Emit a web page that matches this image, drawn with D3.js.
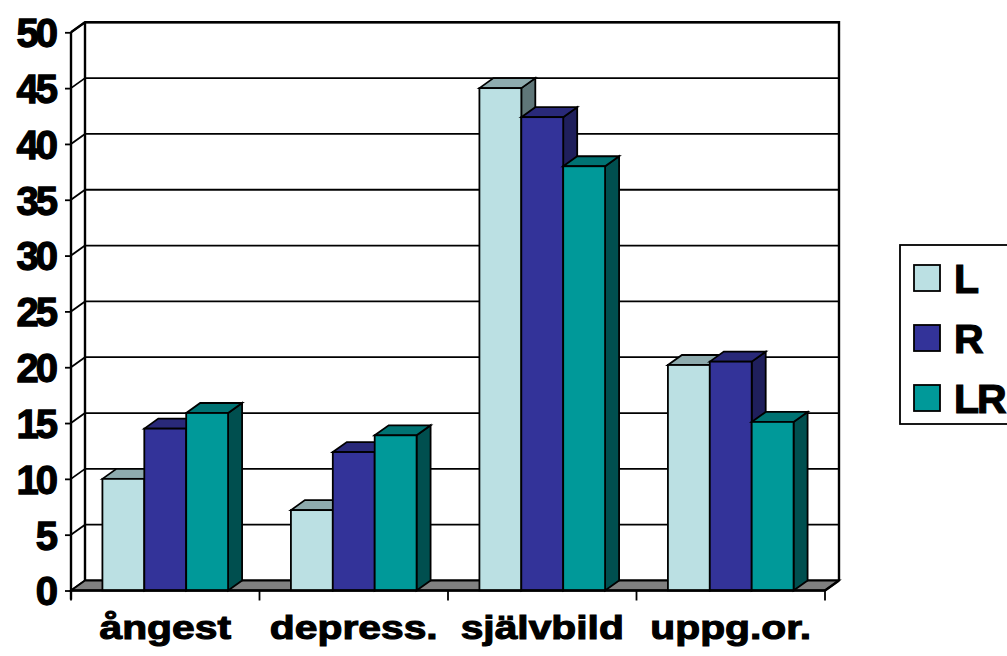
<!DOCTYPE html>
<html>
<head>
<meta charset="utf-8">
<script src="https://cdn.jsdelivr.net/npm/d3@7"></script>
<style>
  html, body { margin: 0; padding: 0; background: #fff; }
  svg { display: block; font-family: "Liberation Sans", Arial, sans-serif; font-weight: bold; }
</style>
</head>
<body>
<svg id="chart" width="1007" height="656"></svg>
<script>
// Categories and series
const categories = ["ångest", "depress.", "självbild", "uppg.or."];
const seriesNames = ["L", "R", "LR"];
const valuesL  = [10, 7.2, 45, 20.2];
const valuesR  = [14.5, 12.4, 42.4, 20.5];
const valuesLR = [15.9, 13.9, 38, 15.1];
const yTicks = [0, 5, 10, 15, 20, 25, 30, 35, 40, 45, 50];

const seriesValues = [valuesL, valuesR, valuesLR];

// Face colours per series: front, top, side
const palette = [
  { front: "#BBE0E3", top: "#8EABAE", side: "#5F7678" },
  { front: "#333399", top: "#292979", side: "#1F1F5C" },
  { front: "#009999", top: "#007373", side: "#004F4F" }
];

const svg = d3.select("#chart");

// Front plane of the plot and 3D depth offset
const plotLeft = 71, plotRight = 825, plotBottom = 590.5, plotTop = 32.3;
const dx = 14, dy = -10;

const x = d3.scaleBand().domain(categories).range([plotLeft, plotRight]).paddingInner(0).paddingOuter(0);
const y = d3.scaleLinear().domain([0, 50]).range([plotBottom, plotTop]);

// Bars sit inside each category with a 150% gap (0.75 of a bar each side)
const xs = d3.scaleBand().domain(seriesNames).range([0, x.bandwidth()]).paddingInner(0).paddingOuter(0.75);

const pts = p => p.map(q => q.join(",")).join(" ");

// Back wall
svg.append("rect")
  .attr("x", plotLeft + dx).attr("y", plotTop + dy)
  .attr("width", plotRight - plotLeft).attr("height", plotBottom - plotTop)
  .attr("fill", "#fff");

// Gridlines on the back wall and the left wall
const grid = svg.append("g");
yTicks.forEach(t => {
  const yy = y(t);
  grid.append("line")
    .attr("x1", plotLeft + dx).attr("x2", plotRight + dx)
    .attr("y1", yy + dy).attr("y2", yy + dy)
    .attr("stroke", "#000").attr("stroke-width", 1.8);
  grid.append("line")
    .attr("x1", plotLeft).attr("x2", plotLeft + dx)
    .attr("y1", yy).attr("y2", yy + dy)
    .attr("stroke", "#000").attr("stroke-width", 1.8);
});

// Walls outline
const frame = svg.append("g").attr("fill", "none").attr("stroke", "#000").attr("stroke-width", 2.4);
frame.append("polyline").attr("points", pts([
  [plotLeft, y(50)], [plotLeft + dx, y(50) + dy], [plotRight + dx, y(50) + dy], [plotRight + dx, y(0) + dy]
]));
frame.append("line")
  .attr("x1", plotLeft + dx).attr("x2", plotLeft + dx)
  .attr("y1", y(50) + dy).attr("y2", y(0) + dy);

// Floor
svg.append("polygon")
  .attr("points", pts([
    [plotLeft, plotBottom], [plotLeft + dx, plotBottom + dy], [plotRight + dx, plotBottom + dy], [plotRight, plotBottom]
  ]))
  .attr("fill", "#808080").attr("stroke", "#000").attr("stroke-width", 1.8);

// Bars
const bars = svg.append("g").attr("stroke", "#000").attr("stroke-width", 1.8).attr("stroke-linejoin", "miter");
categories.forEach((cat, ci) => {
  seriesNames.forEach((s, si) => {
    const v = seriesValues[si][ci];
    const x0 = x(cat) + xs(s);
    const x1 = x0 + xs.bandwidth();
    const yt = y(v), yb = y(0);
    const col = palette[si];
    const g = bars.append("g");
    g.append("polygon")
      .attr("points", pts([[x1, yt], [x1 + dx, yt + dy], [x1 + dx, yb + dy], [x1, yb]]))
      .attr("fill", col.side);
    g.append("polygon")
      .attr("points", pts([[x0, yt], [x0 + dx, yt + dy], [x1 + dx, yt + dy], [x1, yt]]))
      .attr("fill", col.top);
    g.append("rect")
      .attr("x", x0).attr("y", yt)
      .attr("width", x1 - x0).attr("height", yb - yt)
      .attr("fill", col.front);
  });
});

// Y axis
const yAxis = svg.append("g").attr("transform", `translate(${plotLeft},0)`)
  .call(d3.axisLeft(y).tickValues(yTicks).tickSize(6).tickPadding(10));
yAxis.select(".domain").remove();
yAxis.selectAll(".tick line").attr("stroke", "#000").attr("stroke-width", 1.8);
yAxis.selectAll(".tick text")
  .attr("font-family", "'Liberation Sans', Arial, sans-serif")
  .attr("font-weight", "bold")
  .attr("font-size", 40)
  .attr("letter-spacing", -3)
  .attr("fill", "#000")
  .attr("stroke", "#000").attr("stroke-width", 1.3)
  .attr("dy", "0.36em");
svg.append("line")
  .attr("x1", plotLeft).attr("x2", plotLeft)
  .attr("y1", y(50)).attr("y2", plotBottom + 9)
  .attr("stroke", "#000").attr("stroke-width", 2.4);

// X axis
const xAxisLine = svg.append("g");
xAxisLine.append("line")
  .attr("x1", plotLeft).attr("x2", plotRight)
  .attr("y1", plotBottom).attr("y2", plotBottom)
  .attr("stroke", "#000").attr("stroke-width", 2.6);
const boundaries = categories.map(c => x(c)).concat([plotRight]);
boundaries.forEach(bx => {
  xAxisLine.append("line")
    .attr("x1", bx).attr("x2", bx)
    .attr("y1", plotBottom).attr("y2", plotBottom + 10)
    .attr("stroke", "#000").attr("stroke-width", 1.8);
});
// Floor right edge
svg.append("line")
  .attr("x1", plotRight).attr("y1", plotBottom).attr("x2", plotRight + dx).attr("y2", plotBottom + dy)
  .attr("stroke", "#000").attr("stroke-width", 2.4);

// Category labels (wide bold type)
categories.forEach(cat => {
  svg.append("g")
    .attr("transform", `translate(${x(cat) + x.bandwidth() / 2},639) scale(1.2,1)`)
    .append("text")
    .attr("text-anchor", "middle")
    .attr("font-size", 34)
    .attr("fill", "#000")
    .attr("stroke", "#000").attr("stroke-width", 1.1)
    .text(cat);
});

// Legend
const legend = svg.append("g");
legend.append("rect")
  .attr("x", 900).attr("y", 245).attr("width", 130).attr("height", 179)
  .attr("fill", "#fff").attr("stroke", "#000").attr("stroke-width", 1.8);
seriesNames.forEach((s, i) => {
  const yy = 265 + i * 60;
  legend.append("rect")
    .attr("x", 914).attr("y", yy).attr("width", 26).attr("height", 26)
    .attr("fill", palette[i].front).attr("stroke", "#000").attr("stroke-width", 1.8);
  legend.append("text")
    .attr("x", 954).attr("y", yy + 28)
    .attr("font-size", 41).attr("fill", "#000")
    .attr("stroke", "#000").attr("stroke-width", 1.2)
    .attr("letter-spacing", -2)
    .text(s);
});
</script>
</body>
</html>
